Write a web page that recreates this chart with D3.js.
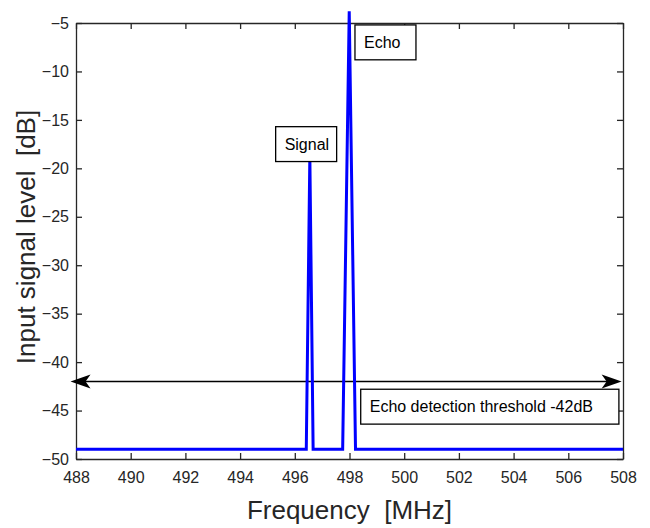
<!DOCTYPE html>
<html>
<head>
<meta charset="utf-8">
<script src="https://cdn.jsdelivr.net/npm/d3@7"></script>
<style>
  body { margin: 0; background: #fff; }
  svg { font-family: "Liberation Sans", Arial, sans-serif; }
  .tick text { font-size: 16px; fill: #262626; }
  .axis-label { font-size: 26px; fill: #262626; white-space: pre; }
  .note text { font-size: 16px; fill: #000; }
</style>
</head>
<body>
<svg width="650" height="528"></svg>
<script>
// spectrum trace
const freq  = [488, 496.42, 496.55, 496.67, 497.75, 497.99, 498.22, 508]
const level = [-49, -49, -18.8, -49, -49, -3.8, -49, -49]

const xTicks = [488, 490, 492, 494, 496, 498, 500, 502, 504, 506, 508]
const yTicks = [-50, -45, -40, -35, -30, -25, -20, -15, -10, -5]

// detection threshold arrow
const threshold = -42
const arrowSpan = [487.8, 507.95]

// annotation boxes, corners in data units
const noteText = ['Signal', 'Echo', 'Echo detection threshold -42dB']
const noteX0 = [495.3, 498.2, 498.41]
const noteX1 = [497.53, 500.43, 507.85]
const noteY0 = [-15.7, -5.2, -42.8]
const noteY1 = [-19.3, -8.8, -46.4]

const svg = d3.select('svg')
const width = +svg.attr('width')
const height = +svg.attr('height')
const margin = {top: 23, right: 27, bottom: 69, left: 76}
const innerWidth = width - margin.left - margin.right
const innerHeight = height - margin.top - margin.bottom

const xScale = d3.scaleLinear().domain([488, 508]).range([0, innerWidth])
const yScale = d3.scaleLinear().domain([-50, -5]).range([innerHeight, 0])

const g = svg.append('g')
  .attr('transform', `translate(${margin.left},${margin.top})`)

// axes, ticks pointing inward on every side (box on)
const styleAxis = sel => {
  sel.selectAll('.domain').attr('stroke', '#262626').attr('stroke-width', 1.3)
  sel.selectAll('.tick line').attr('stroke', '#262626').attr('stroke-width', 1.3)
}

g.append('g')
  .attr('transform', `translate(0,${innerHeight})`)
  .call(d3.axisBottom(xScale).tickValues(xTicks).tickFormat(d3.format('d'))
    .tickSizeInner(-6).tickSizeOuter(0).tickPadding(13))
  .call(styleAxis)
  .attr('font-family', null).attr('font-size', null)

g.append('g')
  .call(d3.axisLeft(yScale).tickValues(yTicks).tickFormat(d3.format('d'))
    .tickSizeInner(-6).tickSizeOuter(0).tickPadding(7))
  .call(styleAxis)
  .attr('font-family', null).attr('font-size', null)

g.append('g')
  .call(d3.axisTop(xScale).tickValues(xTicks).tickFormat('')
    .tickSizeInner(-6).tickSizeOuter(0))
  .call(styleAxis)

g.append('g')
  .attr('transform', `translate(${innerWidth},0)`)
  .call(d3.axisRight(yScale).tickValues(yTicks).tickFormat('')
    .tickSizeInner(-6).tickSizeOuter(0))
  .call(styleAxis)

// axis labels
g.append('text')
  .attr('class', 'axis-label')
  .attr('x', innerWidth / 2)
  .attr('y', innerHeight + 60)
  .attr('text-anchor', 'middle')
  .text('Frequency  [MHz]')

g.append('text')
  .attr('class', 'axis-label')
  .attr('transform', `translate(-41,${innerHeight / 2 - 4}) rotate(-90)`)
  .attr('text-anchor', 'middle')
  .text('Input signal level  [dB]')

// threshold arrow, double headed
const ay = yScale(threshold)
const ax0 = xScale(arrowSpan[0])
const ax1 = xScale(arrowSpan[1])
g.append('line')
  .attr('x1', ax0 + 10).attr('x2', ax1 - 10)
  .attr('y1', ay).attr('y2', ay)
  .attr('stroke', '#000').attr('stroke-width', 1.5)

const head = (tip, dir) =>
  `M${tip},${ay} L${tip + dir * 20},${ay - 7} L${tip + dir * 15},${ay} L${tip + dir * 20},${ay + 7} Z`
g.append('path').attr('d', head(ax0, 1)).attr('fill', '#000')
g.append('path').attr('d', head(ax1, -1)).attr('fill', '#000')

// blue trace
const points = freq.map((f, i) => [f, level[i]])
g.append('path')
  .datum(points)
  .attr('fill', 'none')
  .attr('stroke', '#0000ff')
  .attr('stroke-width', 3)
  .attr('stroke-linejoin', 'miter')
  .attr('d', d3.line().x(d => xScale(d[0])).y(d => yScale(d[1])))

// annotation boxes
const notes = g.selectAll('.note')
  .data(noteText.map((t, i) => ({t, x0: noteX0[i], x1: noteX1[i], y0: noteY0[i], y1: noteY1[i]})))
  .enter().append('g')
  .attr('class', 'note')

notes.append('rect')
  .attr('x', d => xScale(d.x0))
  .attr('y', d => yScale(d.y0))
  .attr('width', d => xScale(d.x1) - xScale(d.x0))
  .attr('height', d => yScale(d.y1) - yScale(d.y0))
  .attr('fill', '#fff')
  .attr('stroke', '#000')
  .attr('stroke-width', 1.3)

notes.append('text')
  .attr('x', d => xScale(d.x0) + 9)
  .attr('y', d => (yScale(d.y0) + yScale(d.y1)) / 2)
  .attr('dy', '0.36em')
  .text(d => d.t)
</script>
</body>
</html>
